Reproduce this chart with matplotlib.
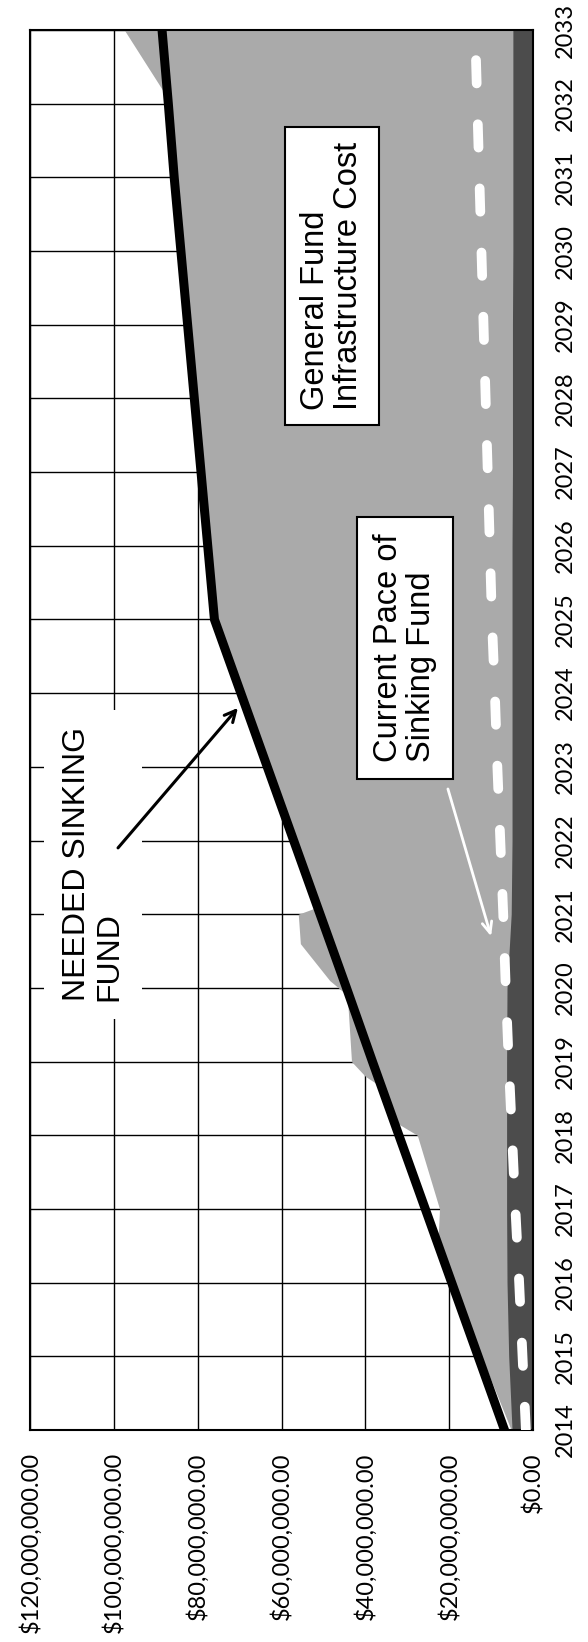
import matplotlib
matplotlib.use("Agg")
import matplotlib.pyplot as plt
from matplotlib.ticker import FuncFormatter

# values in millions of dollars
years = list(range(2014, 2034))
needed_fund = [6.8, 13.1, 19.4, 25.7, 32.0, 38.3, 44.5, 50.8, 57.1, 63.4,
               69.7, 76.0, 77.6, 79.2, 80.8, 82.4, 84.0, 85.6, 87.0, 88.5]
current_pace = [1.7, 2.5, 3.3, 4.2, 5.0, 5.8, 6.5, 7.1, 7.8, 8.5,
                9.1, 9.8, 10.3, 10.8, 11.3, 11.8, 12.3, 12.8, 13.3, 13.8]
existing_fund = [5.0, 5.8, 6.2, 6.3, 6.3, 6.3, 6.2, 5.2, 5.0, 5.0,
                 5.0, 5.0, 5.0, 4.9, 4.9, 4.9, 4.8, 4.8, 4.8, 4.8]
infra_years = [2014, 2015, 2016, 2016.65, 2017, 2018, 2018.15, 2018.65, 2018.8,
               2019, 2019.9, 2020.1, 2020.6, 2021, 2021.1, 2022, 2023, 2024,
               2025, 2026, 2027, 2028, 2029, 2030, 2031, 2032, 2033]
infra_cost = [5.2, 12.3, 18.6, 22.6, 22.3, 27.6, 32.0, 36.0, 40.0,
              43.3, 44.3, 48.5, 55.5, 56.0, 51.2, 56.4, 62.7, 69.0,
              75.3, 76.9, 78.5, 80.1, 81.7, 83.3, 84.9, 86.3, 97.5]
value_ticks = [0, 20, 40, 60, 80, 100, 120]

label_font = ['Liberation Sans', 'DejaVu Sans']
tick_font = ['Lato', 'DejaVu Sans']

fig = plt.figure(figsize=(5.88, 16.42), dpi=100)
ax = fig.add_axes([30 / 588, (1642 - 1430) / 1642, 503 / 588, 1400 / 1642])

#areas
ax.fill_betweenx(infra_years, 0, infra_cost, color='#aaaaaa', lw=0, zorder=1)
ax.fill_betweenx(years, 0, existing_fund, color='#4c4c4c', lw=0, zorder=2)

#lines
ax.plot(current_pace, years, color='white', lw=7, dashes=(2.4, 4.2),
        dash_capstyle='round', zorder=3)
ax.plot(needed_fund, years, color='black', lw=6.5, zorder=4)

ax.set_xlim(120, 0)
ax.set_ylim(2014, 2033)
ax.set_xticks(value_ticks)
ax.set_yticks(years)
ax.xaxis.set_major_formatter(FuncFormatter(lambda v, p: '${:,.2f}'.format(v * 1e6)))
ax.yaxis.tick_right()
ax.grid(True, color='black', lw=1.0)
ax.set_axisbelow(True)
for s in ax.spines.values():
    s.set_color('black')
    s.set_linewidth(1.5)

ax.tick_params(axis='x', length=0, pad=16, labelsize=17, labelrotation=90)
ax.tick_params(axis='y', length=0, pad=16, labelsize=17, labelrotation=90)
for t in ax.get_xticklabels() + ax.get_yticklabels():
    t.set_family(tick_font)
for t in ax.get_yticklabels():
    t.set_va('center')

# annotations
ax.text(112.4, 2019.82, 'NEEDED SINKING\nFUND', rotation=90, rotation_mode='anchor',
        ha='left', va='top', fontsize=23, family=label_font, linespacing=1.12,
        bbox=dict(boxstyle='square,pad=0.55', fc='white', ec='none'), zorder=5)
ax.annotate('', xy=(70.4, 2023.8), xytext=(99.0, 2021.9),
            arrowprops=dict(arrowstyle='->,head_length=0.8,head_width=0.4', color='black', lw=2.2,
                            shrinkA=0, shrinkB=0), zorder=6)

ax.text(55.6, 2027.84, 'General Fund\nInfrastructure Cost', rotation=90, rotation_mode='anchor',
        ha='left', va='top', fontsize=23.5, family=label_font, linespacing=1.08,
        bbox=dict(boxstyle='square,pad=0.45', fc='white', ec='black', lw=1.5), zorder=5)

ax.text(38.2, 2023.06, 'Current Pace of\nSinking Fund', rotation=90, rotation_mode='anchor',
        ha='left', va='top', fontsize=23.5, family=label_font, linespacing=1.08,
        bbox=dict(boxstyle='square,pad=0.5', fc='white', ec='black', lw=1.5), zorder=5)
ax.annotate('', xy=(10.0, 2020.7), xytext=(20.3, 2022.7),
            arrowprops=dict(arrowstyle='->,head_length=0.8,head_width=0.35', color='white', lw=2.0,
                            shrinkA=0, shrinkB=0), zorder=6)

fig.savefig('out.png', dpi=100)
